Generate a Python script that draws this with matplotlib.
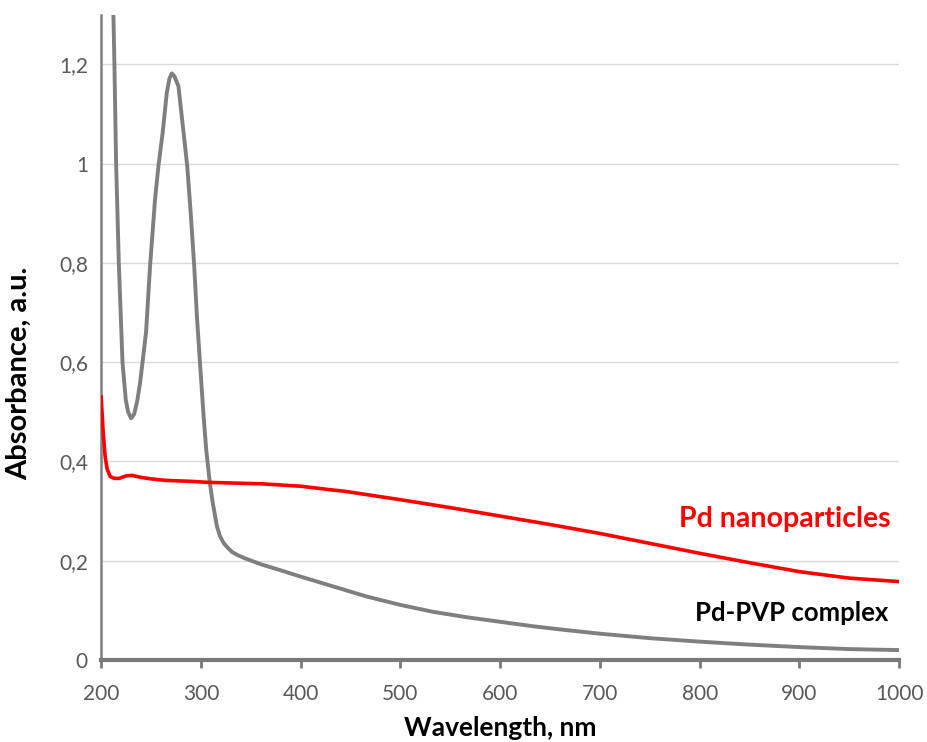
import matplotlib
matplotlib.use('Agg')
import matplotlib.pyplot as plt
from matplotlib.ticker import FuncFormatter

# UV-vis spectra
gray_wl = [207, 212.3, 213.3, 215, 217.7, 221.4, 224.7, 227, 230, 233, 236,
           239, 245, 249, 254, 257.4, 261.7, 265.8, 268.5, 270.8, 273.5,
           277.5, 280, 282.6, 286.3, 290, 293.3, 296, 299.3, 302.7, 305.3,
           309, 312, 316, 319, 323, 327, 331, 337, 344, 360, 378, 400, 433,
           466, 500, 533, 567, 600, 633, 663, 700, 750, 800, 850, 900, 950,
           1000]
gray_abs = [1.8, 1.30, 1.2, 1.0, 0.8, 0.6, 0.524, 0.5, 0.487, 0.495, 0.52,
            0.558, 0.66, 0.793, 0.928, 0.995, 1.063, 1.143, 1.172, 1.182,
            1.176, 1.156, 1.11, 1.063, 0.995, 0.894, 0.793, 0.692, 0.592,
            0.491, 0.424, 0.356, 0.315, 0.27, 0.25, 0.235, 0.226, 0.218,
            0.211, 0.205, 0.193, 0.182, 0.168, 0.148, 0.128, 0.111, 0.097,
            0.086, 0.077, 0.068, 0.061, 0.053, 0.044, 0.037, 0.031, 0.026,
            0.022, 0.02]

red_wl = [200, 202, 204, 206, 209, 213, 218, 225, 231, 240, 250, 264, 290,
          307, 361, 401, 430, 444, 500, 550, 600, 650, 700, 750, 800, 850,
          900, 950, 1000]
red_abs = [0.53, 0.46, 0.41, 0.385, 0.37, 0.366, 0.366, 0.371, 0.372, 0.368,
           0.365, 0.362, 0.36, 0.358, 0.355, 0.35, 0.343, 0.34, 0.323, 0.307,
           0.29, 0.273, 0.255, 0.235, 0.215, 0.196, 0.178, 0.165, 0.158]

x_ticks = [200, 300, 400, 500, 600, 700, 800, 900, 1000]
y_ticks = [0, 0.2, 0.4, 0.6, 0.8, 1.0, 1.2]

plt.rcParams['font.family'] = ['Lato', 'DejaVu Sans']

fig = plt.figure(figsize=(9.28, 7.42), dpi=100)
ax = fig.add_axes([0.109, 0.1105, 0.86, 0.8695])

ax.plot(gray_wl, gray_abs, color='#7f7f7f', lw=2.8, zorder=3,
        solid_joinstyle='round')
ax.plot(red_wl, red_abs, color='#ff0000', lw=2.6, zorder=3,
        solid_joinstyle='round')

ax.set_xlim(200, 1000)
ax.set_ylim(0, 1.3)
ax.set_xticks(x_ticks)
ax.set_yticks(y_ticks)
ax.yaxis.set_major_formatter(FuncFormatter(
    lambda v, p: ('%g' % round(v, 1)).replace('.', ',')))

ax.grid(axis='y', color='#d9d9d9', lw=1)
ax.set_axisbelow(True)
for s in ('top', 'right'):
    ax.spines[s].set_visible(False)
ax.spines['left'].set_color('#808080')
ax.spines['left'].set_linewidth(1.8)
ax.spines['bottom'].set_color('#7a7a7a')
ax.spines['bottom'].set_linewidth(3)
ax.tick_params(axis='x', direction='out', length=6, width=2,
               color='#7a7a7a', labelcolor='#595959', labelsize=15, pad=11)
ax.tick_params(axis='y', length=0, labelcolor='#595959', labelsize=15,
               pad=9.5)

ax.set_xlabel('Wavelength, nm', fontsize=19, fontweight='bold', labelpad=9)
ax.set_ylabel('Absorbance, a.u.', fontsize=21, fontweight='bold')
ax.yaxis.set_label_coords(-0.0865, 0.445)

ax.text(991, 0.285, 'Pd nanoparticles', color='#ff0000', fontsize=20.5,
        fontweight='bold', ha='right', va='center')
ax.text(989, 0.095, 'Pd-PVP complex', color='black', fontsize=18.5,
        fontweight='bold', ha='right', va='center')

fig.savefig('out.png', dpi=100)
